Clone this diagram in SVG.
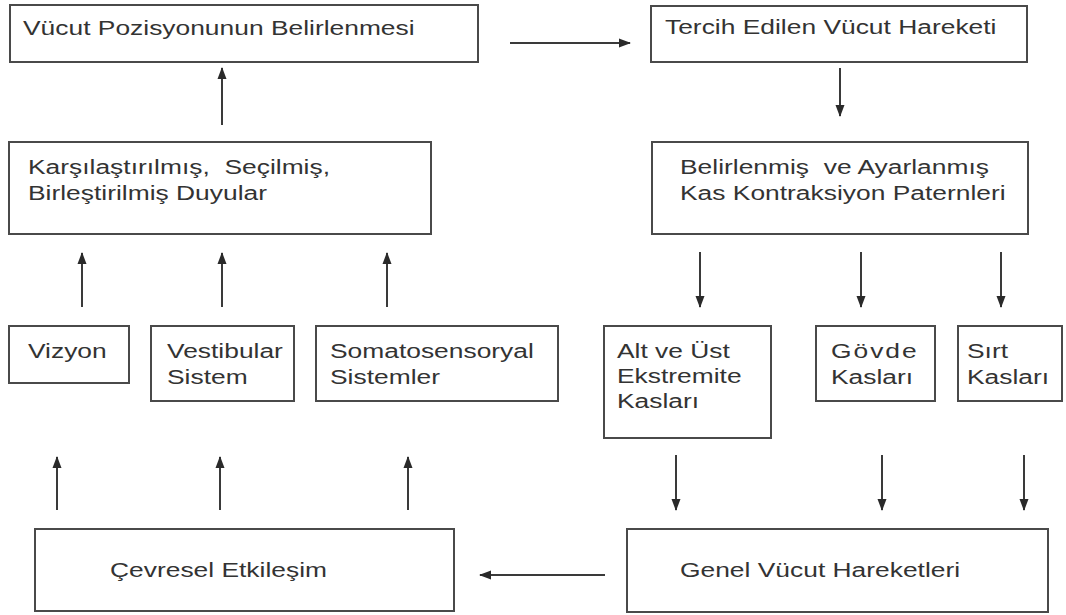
<svg xmlns="http://www.w3.org/2000/svg" width="1066" height="615" viewBox="0 0 1066 615">
<style>
.bg{fill:#ffffff}
.box{fill:#ffffff;stroke:#4a4a4a;stroke-width:2}
.t{font-family:"Liberation Sans",Arial,sans-serif;font-size:20px;fill:#333333;white-space:pre}
.c{stroke:#3a3a3a;stroke-width:2;fill:none}
</style>
<defs>
<marker id="ah" markerUnits="userSpaceOnUse" markerWidth="12" markerHeight="12" viewBox="0 0 12 12" refX="11" refY="6" orient="auto">
<path d="M0,1.5 L12,6 L0,10.5 Z" fill="#2a2a2a"/>
</marker>
</defs>
<rect class="bg" x="0" y="0" width="1066" height="615"/>

<g id="n1"><rect class="box" x="10" y="5" width="468" height="57"/>
<text class="t" transform="translate(23,35) scale(1.32,1)">Vücut Pozisyonunun Belirlenmesi</text></g>

<g id="n2"><rect class="box" x="651" y="6" width="376" height="56"/>
<text class="t" transform="translate(665,34) scale(1.32,1)">Tercih Edilen Vücut Hareketi</text></g>

<g id="n3"><rect class="box" x="9" y="142" width="422" height="92"/>
<text class="t" transform="translate(28,174) scale(1.32,1)"><tspan x="0" y="0">Karşılaştırılmış,  Seçilmiş,</tspan><tspan x="0" y="26">Birleştirilmiş Duyular</tspan></text></g>

<g id="n4"><rect class="box" x="652" y="142" width="376" height="92"/>
<text class="t" transform="translate(680,174) scale(1.32,1)"><tspan x="0" y="0">Belirlenmiş  ve Ayarlanmış</tspan><tspan x="0" y="26">Kas Kontraksiyon Paternleri</tspan></text></g>

<g id="n5"><rect class="box" x="9" y="326" width="120" height="57"/>
<text class="t" transform="translate(28,358) scale(1.32,1)">Vizyon</text></g>

<g id="n6"><rect class="box" x="151" y="326" width="143" height="75"/>
<text class="t" transform="translate(167,358) scale(1.32,1)"><tspan x="0" y="0">Vestibular</tspan><tspan x="0" y="26">Sistem</tspan></text></g>

<g id="n7"><rect class="box" x="316" y="326" width="242" height="75"/>
<text class="t" transform="translate(330,358) scale(1.32,1)"><tspan x="0" y="0">Somatosensoryal</tspan><tspan x="0" y="26">Sistemler</tspan></text></g>

<g id="n8"><rect class="box" x="604" y="326" width="167" height="112"/>
<text class="t" transform="translate(617,358) scale(1.32,1)"><tspan x="0" y="0">Alt ve Üst</tspan><tspan x="0" y="25">Ekstremite</tspan><tspan x="0" y="50">Kasları</tspan></text></g>

<g id="n9"><rect class="box" x="816" y="326" width="119" height="75"/>
<text class="t" transform="translate(831,358) scale(1.32,1)"><tspan x="0" y="0" letter-spacing="1.5">Gövde</tspan><tspan x="0" y="26">Kasları</tspan></text></g>

<g id="n10"><rect class="box" x="958" y="326" width="104" height="75"/>
<text class="t" transform="translate(967,358) scale(1.32,1)"><tspan x="0" y="0">Sırt</tspan><tspan x="0" y="26">Kasları</tspan></text></g>

<g id="n11"><rect class="box" x="35" y="529" width="419" height="82"/>
<text class="t" transform="translate(110,577) scale(1.32,1)">Çevresel Etkileşim</text></g>

<g id="n12"><rect class="box" x="627" y="529" width="421" height="83"/>
<text class="t" transform="translate(680,577) scale(1.32,1)">Genel Vücut Hareketleri</text></g>

<g id="connectors">
<line class="c" x1="510" y1="43" x2="630" y2="43" marker-end="url(#ah)"/>
<line class="c" x1="222" y1="125" x2="222" y2="68" marker-end="url(#ah)"/>
<line class="c" x1="840" y1="68" x2="840" y2="116" marker-end="url(#ah)"/>
<line class="c" x1="82" y1="307" x2="82" y2="253" marker-end="url(#ah)"/>
<line class="c" x1="222" y1="307" x2="222" y2="253" marker-end="url(#ah)"/>
<line class="c" x1="387" y1="307" x2="387" y2="253" marker-end="url(#ah)"/>
<line class="c" x1="700" y1="252" x2="700" y2="307" marker-end="url(#ah)"/>
<line class="c" x1="861" y1="252" x2="861" y2="307" marker-end="url(#ah)"/>
<line class="c" x1="1001" y1="252" x2="1001" y2="307" marker-end="url(#ah)"/>
<line class="c" x1="57" y1="510" x2="57" y2="457" marker-end="url(#ah)"/>
<line class="c" x1="220" y1="510" x2="220" y2="457" marker-end="url(#ah)"/>
<line class="c" x1="408" y1="510" x2="408" y2="457" marker-end="url(#ah)"/>
<line class="c" x1="676" y1="455" x2="676" y2="510" marker-end="url(#ah)"/>
<line class="c" x1="882" y1="455" x2="882" y2="510" marker-end="url(#ah)"/>
<line class="c" x1="1024" y1="455" x2="1024" y2="510" marker-end="url(#ah)"/>
<line class="c" x1="605" y1="575" x2="480" y2="575" marker-end="url(#ah)"/>
</g>
</svg>
